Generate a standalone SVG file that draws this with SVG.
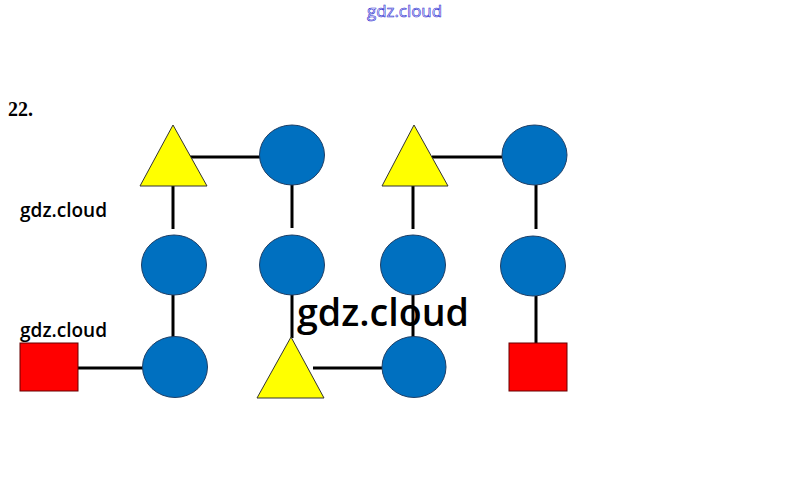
<svg xmlns="http://www.w3.org/2000/svg" width="809" height="495" viewBox="0 0 809 495">
<style>
.c{fill:#0070C0;stroke:#1F3F66;stroke-width:1}
.t{fill:#FFFF00;stroke:#333;stroke-width:1}
.s{fill:#FF0000;stroke:#600;stroke-width:1}
.e{stroke:#000;stroke-width:3;fill:none}
.w{font-family:"Open Sans",Lato,sans-serif;fill:#000}
</style>
<rect width="809" height="495" fill="#fff"/>
<text x="367" y="17" font-family="'Open Sans',Lato,sans-serif" font-size="17" fill="#f4f4ff" stroke="#2a2ad0" stroke-width="0.6" textLength="75" lengthAdjust="spacingAndGlyphs">gdz.cloud</text>
<text x="8" y="116" font-family="'Liberation Serif',serif" font-weight="bold" font-size="20" fill="#000">22.</text>
<g id="connectors">
<line class="e" x1="190" y1="157" x2="260" y2="157"/>
<line class="e" x1="432" y1="157" x2="502" y2="157"/>
<line class="e" x1="173" y1="186" x2="173" y2="229"/>
<line class="e" x1="292" y1="185" x2="292" y2="228"/>
<line class="e" x1="413" y1="186" x2="413" y2="229"/>
<line class="e" x1="536" y1="185" x2="536" y2="229"/>
<line class="e" x1="173" y1="295" x2="173" y2="338"/>
<line class="e" x1="292" y1="295" x2="292" y2="338"/>
<line class="e" x1="413" y1="295" x2="413" y2="338"/>
<line class="e" x1="536" y1="296" x2="536" y2="343"/>
<line class="e" x1="78" y1="368" x2="143" y2="368"/>
<line class="e" x1="313" y1="368" x2="382" y2="368"/>
</g>
<g id="n1"><polygon class="t" points="173,125 207,186 140,186"/></g>
<g id="n2"><ellipse class="c" cx="292" cy="155" rx="32.5" ry="30"/></g>
<g id="n3"><polygon class="t" points="414,125 448,186 382,186"/></g>
<g id="n4"><ellipse class="c" cx="534.5" cy="155" rx="32.5" ry="30"/></g>
<g id="n5"><ellipse class="c" cx="174" cy="265" rx="32.5" ry="30"/></g>
<g id="n6"><ellipse class="c" cx="292" cy="265" rx="32.5" ry="30"/></g>
<g id="n7"><ellipse class="c" cx="413" cy="265" rx="32.5" ry="30"/></g>
<g id="n8"><ellipse class="c" cx="533" cy="266" rx="32.5" ry="30"/></g>
<g id="n9"><rect class="s" x="20" y="343" width="58" height="48"/></g>
<g id="n10"><ellipse class="c" cx="175" cy="367" rx="32.5" ry="30.5"/></g>
<g id="n11"><polygon class="t" points="291,337 324,398 257,398"/></g>
<g id="n12"><ellipse class="c" cx="414" cy="367" rx="32" ry="30.5"/></g>
<g id="n13"><rect class="s" x="509" y="343" width="58" height="48"/></g>
<text class="w" x="20" y="217" font-size="19" font-weight="600" textLength="87" lengthAdjust="spacingAndGlyphs">gdz.cloud</text>
<text class="w" x="20" y="337" font-size="19" font-weight="600" textLength="87" lengthAdjust="spacingAndGlyphs">gdz.cloud</text>
<text class="w" x="297" y="326" font-size="37" font-weight="600" textLength="172" lengthAdjust="spacingAndGlyphs">gdz.cloud</text>
</svg>
